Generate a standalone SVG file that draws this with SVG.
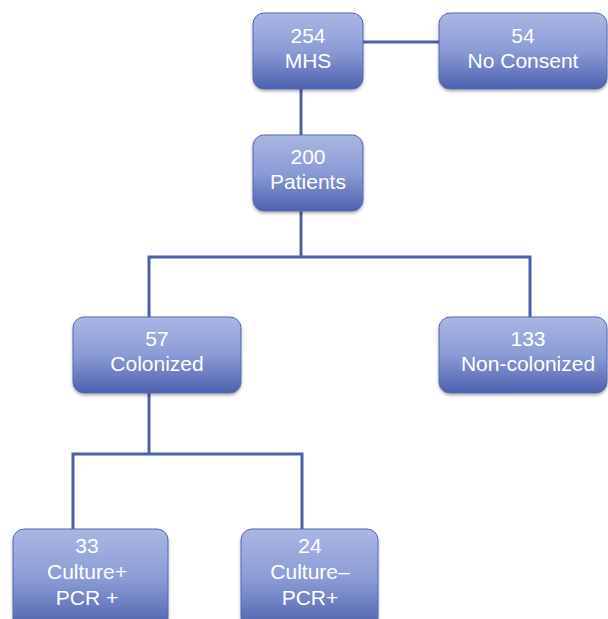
<svg xmlns="http://www.w3.org/2000/svg" width="608" height="619" viewBox="0 0 608 619">
<defs>
<linearGradient id="g" x1="0" y1="0" x2="0" y2="1">
<stop offset="0" stop-color="#aab6e2"/>
<stop offset="0.5" stop-color="#8b9bd6"/>
<stop offset="1" stop-color="#4d61ad"/>
</linearGradient>
<filter id="sh" x="-10%" y="-10%" width="120%" height="130%">
<feDropShadow dx="0" dy="2" stdDeviation="1.5" flood-color="#000" flood-opacity="0.3"/>
</filter>
</defs>
<style>
.box{fill:url(#g);stroke:#5468b0;stroke-width:1;filter:url(#sh)}
.t{font-family:"Liberation Sans",Arial,sans-serif;font-size:21px;fill:#fff;text-anchor:middle}
.c{fill:none;stroke:#4c60a9;stroke-width:3}
</style>
<rect width="608" height="619" fill="#fff"/>
<g id="connectors">
<path class="c" d="M363 42H439"/>
<path class="c" d="M301 89V135"/>
<path class="c" d="M301 211V257M149 317V257H530V317"/>
<path class="c" d="M149 393V454M73 529V454H302V529"/>
</g>
<g id="mhs"><rect class="box" x="253" y="13" width="110" height="76" rx="11"/>
<text class="t" x="308" y="43">254</text><text class="t" x="308" y="68">MHS</text></g>
<g id="noconsent"><rect class="box" x="439" y="13" width="168" height="76" rx="11"/>
<text class="t" x="523" y="43">54</text><text class="t" x="523" y="68">No Consent</text></g>
<g id="patients"><rect class="box" x="253" y="135" width="110" height="76" rx="11"/>
<text class="t" x="308" y="164">200</text><text class="t" x="308" y="189">Patients</text></g>
<g id="colonized"><rect class="box" x="73" y="317" width="168" height="76" rx="11"/>
<text class="t" x="157" y="346">57</text><text class="t" x="157" y="371">Colonized</text></g>
<g id="noncolonized"><rect class="box" x="439" y="317" width="168" height="76" rx="11"/>
<text class="t" x="528" y="346">133</text><text class="t" x="528" y="371">Non-colonized</text></g>
<g id="cultpos"><rect class="box" x="13" y="529" width="155" height="100" rx="11"/>
<text class="t" x="87" y="553">33</text><text class="t" x="87" y="579">Culture+</text><text class="t" x="87" y="605">PCR +</text></g>
<g id="cultneg"><rect class="box" x="241" y="529" width="137" height="100" rx="11"/>
<text class="t" x="310" y="553">24</text><text class="t" x="310" y="579">Culture–</text><text class="t" x="310" y="605">PCR+</text></g>
</svg>
